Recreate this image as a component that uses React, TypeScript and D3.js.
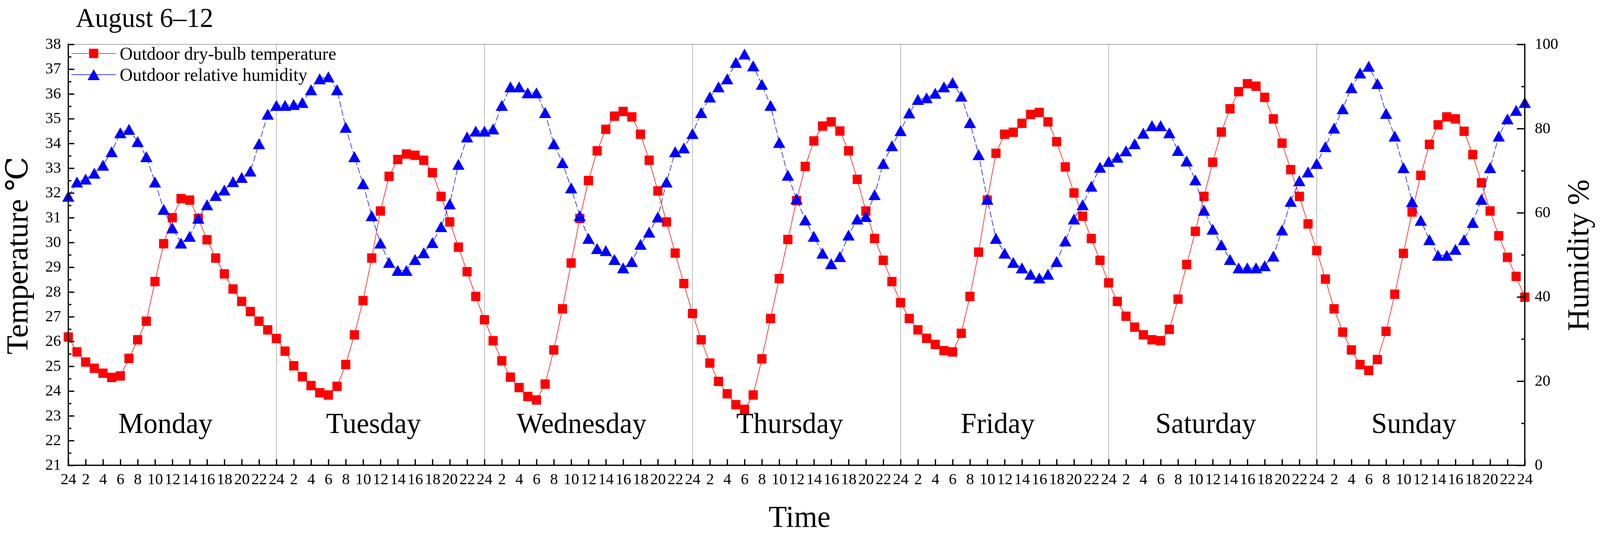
import { axisBottom, axisLeft, axisRight, line, range, scaleLinear, select } from "d3";
import { useEffect, useRef } from "react";

// hourly readings, one array per day (Sunday also holds the closing 24:00 point)
const tempMon = [26.18, 25.58, 25.17, 24.92, 24.72, 24.55, 24.61, 25.32, 26.07, 26.82, 28.42, 29.95, 31.0, 31.77, 31.71, 30.97, 30.11, 29.37, 28.73, 28.12, 27.62, 27.21, 26.82, 26.47];
const tempTue = [26.12, 25.61, 25.02, 24.58, 24.22, 23.93, 23.84, 24.19, 25.07, 26.27, 27.65, 29.37, 31.27, 32.67, 33.35, 33.57, 33.52, 33.32, 32.82, 31.86, 30.83, 29.81, 28.82, 27.82];
const tempWed = [26.88, 26.03, 25.22, 24.56, 24.14, 23.78, 23.64, 24.28, 25.66, 27.32, 29.17, 30.97, 32.5, 33.7, 34.57, 35.1, 35.29, 35.07, 34.37, 33.32, 32.08, 30.83, 29.57, 28.34];
const tempThu = [27.13, 26.07, 25.13, 24.39, 23.89, 23.45, 23.26, 23.84, 25.3, 26.93, 28.54, 30.12, 31.69, 33.07, 34.1, 34.7, 34.87, 34.5, 33.7, 32.55, 31.27, 30.16, 29.28, 28.42];
const tempFri = [27.57, 26.93, 26.47, 26.13, 25.88, 25.63, 25.58, 26.33, 27.82, 29.61, 31.71, 33.6, 34.37, 34.45, 34.81, 35.17, 35.25, 34.87, 34.07, 33.05, 32.0, 31.06, 30.16, 29.28];
const tempSat = [28.37, 27.62, 27.02, 26.58, 26.27, 26.07, 26.03, 26.49, 27.71, 29.11, 30.45, 31.86, 33.24, 34.46, 35.4, 36.09, 36.41, 36.31, 35.86, 34.99, 34.01, 32.94, 31.86, 30.75];
const tempSun = [29.67, 28.52, 27.32, 26.38, 25.66, 25.07, 24.83, 25.27, 26.41, 27.91, 29.56, 31.23, 32.71, 33.96, 34.75, 35.07, 34.99, 34.49, 33.55, 32.41, 31.27, 30.27, 29.4, 28.63, 27.79];

const humMon = [63.9, 67.3, 68.0, 69.4, 71.3, 74.5, 79.0, 79.8, 76.9, 73.3, 67.3, 60.8, 56.4, 52.8, 54.4, 58.7, 61.9, 64.1, 65.4, 67.4, 68.4, 69.9, 76.4, 83.4];
const humTue = [85.5, 85.5, 85.7, 86.2, 89.2, 91.8, 92.3, 89.2, 80.3, 73.3, 66.9, 59.3, 52.8, 48.2, 46.3, 46.3, 48.9, 50.5, 52.9, 56.7, 62.1, 71.5, 78.0, 79.4];
const humWed = [79.4, 79.9, 85.5, 89.9, 89.9, 88.5, 88.5, 83.8, 76.4, 71.9, 65.9, 59.3, 53.9, 51.5, 51.0, 48.9, 46.9, 48.4, 52.5, 55.4, 59.0, 67.3, 74.5, 75.4];
const humThu = [78.8, 83.8, 87.5, 89.9, 91.8, 95.7, 97.7, 94.9, 90.5, 85.5, 76.7, 68.9, 63.3, 58.3, 54.4, 50.4, 47.9, 49.6, 54.7, 58.5, 59.1, 64.3, 71.7, 75.9];
const humFri = [79.5, 83.7, 86.9, 87.3, 88.4, 89.9, 90.9, 87.7, 81.4, 73.8, 63.2, 53.9, 50.4, 48.2, 46.9, 45.4, 44.5, 45.4, 48.4, 53.3, 58.5, 61.9, 66.3, 70.8];
const humSat = [72.2, 73.2, 74.7, 76.4, 78.9, 80.7, 80.7, 79.0, 74.8, 72.3, 67.8, 60.6, 56.1, 52.4, 48.9, 46.9, 46.9, 46.9, 47.4, 49.7, 55.9, 62.7, 67.6, 69.7];
const humSun = [71.7, 75.7, 80.1, 84.7, 89.7, 93.2, 94.8, 90.7, 83.6, 78.2, 70.7, 62.6, 58.2, 53.6, 49.9, 49.9, 51.3, 53.6, 57.7, 63.2, 70.7, 78.2, 82.3, 84.3, 86.2];

const days = ["Monday", "Tuesday", "Wednesday", "Thursday", "Friday", "Saturday", "Sunday"];
const tempTicks = [21, 22, 23, 24, 25, 26, 27, 28, 29, 30, 31, 32, 33, 34, 35, 36, 37, 38];
const humTicks = [0, 20, 40, 60, 80, 100];

const temperature = [...tempMon, ...tempTue, ...tempWed, ...tempThu, ...tempFri, ...tempSat, ...tempSun];
const humidity = [...humMon, ...humTue, ...humWed, ...humThu, ...humFri, ...humSat, ...humSun];

const WIDTH = 4184;
const HEIGHT = 1369;
const FONT = '"Liberation Serif", "Times New Roman", "DejaVu Serif", serif';
const plot = { left: 178.6, right: 3987.3, top: 113.5, bottom: 1190.7 };

export default function App() {
  const svgRef = useRef<SVGSVGElement | null>(null);

  useEffect(() => {
    if (!svgRef.current) return;
    const svg = select(svgRef.current);
    svg.selectAll("*").remove();

    const x = scaleLinear().domain([0, 168]).range([plot.left, plot.right]);
    const yT = scaleLinear().domain([21, 38]).range([plot.bottom, plot.top]);
    const yH = scaleLinear().domain([0, 100]).range([plot.bottom, plot.top]);

    svg.append("rect").attr("width", WIDTH).attr("height", HEIGHT).attr("fill", "#fff");

    // day separators
    svg
      .append("g")
      .selectAll("line")
      .data(range(24, 168, 24))
      .join("line")
      .attr("x1", (d) => x(d))
      .attr("x2", (d) => x(d))
      .attr("y1", plot.top)
      .attr("y2", plot.bottom)
      .attr("stroke", "#a0a0a0")
      .attr("stroke-width", 1.5);

    svg
      .append("line")
      .attr("x1", plot.left)
      .attr("x2", plot.right)
      .attr("y1", plot.top)
      .attr("y2", plot.top)
      .attr("stroke", "#888")
      .attr("stroke-width", 1.6);

    // temperature series
    const tempLine = line<number>()
      .x((_, i) => x(i))
      .y((d) => yT(d));
    svg
      .append("path")
      .attr("d", tempLine(temperature))
      .attr("fill", "none")
      .attr("stroke", "#ff0000")
      .attr("stroke-width", 1.5);
    svg
      .append("g")
      .selectAll("rect")
      .data(temperature)
      .join("rect")
      .attr("x", (_, i) => x(i) - 12)
      .attr("y", (d) => yT(d) - 12)
      .attr("width", 24)
      .attr("height", 24)
      .attr("fill", "#ff0000");

    // humidity series
    const humLine = line<number>()
      .x((_, i) => x(i))
      .y((d) => yH(d));
    svg
      .append("path")
      .attr("d", humLine(humidity))
      .attr("fill", "none")
      .attr("stroke", "#0000ff")
      .attr("stroke-width", 1.5)
      .attr("stroke-dasharray", "16 6");
    const tri = "M0,-14L16,14L-16,14Z";
    svg
      .append("g")
      .selectAll("path")
      .data(humidity)
      .join("path")
      .attr("d", tri)
      .attr("transform", (d, i) => `translate(${x(i)},${yH(d)})`)
      .attr("fill", "#0000ff");

    const styleAxis = (g: any) => {
      g.attr("font-family", FONT).attr("font-size", 41);
      g.select(".domain").remove();
      g.selectAll(".tick line").attr("stroke", "#000").attr("stroke-width", 3.3);
      g.selectAll(".tick text").attr("fill", "#000");
    };

    // left axis, minor ticks at halves
    svg
      .append("g")
      .attr("transform", `translate(${plot.left},0)`)
      .call(axisLeft(yT).tickValues(range(21.5, 38, 1)).tickSize(-8).tickFormat(() => ""))
      .call(styleAxis);
    svg
      .append("g")
      .attr("transform", `translate(${plot.left},0)`)
      .call(axisLeft(yT).tickValues(tempTicks).tickSize(-15.7).tickPadding(19).tickFormat((d) => `${d}`))
      .call(styleAxis)
      .call((g) => g.selectAll(".tick text").attr("dy", "0.27em"));

    // right axis
    svg
      .append("g")
      .attr("transform", `translate(${plot.right},0)`)
      .call(axisRight(yH).tickValues(range(10, 100, 20)).tickSize(-9).tickFormat(() => ""))
      .call(styleAxis);
    svg
      .append("g")
      .attr("transform", `translate(${plot.right},0)`)
      .call(axisRight(yH).tickValues(humTicks).tickSize(-20.7).tickPadding(26).tickFormat((d) => `${d}`))
      .call(styleAxis)
      .call((g) => g.selectAll(".tick text").attr("dy", "0.27em"));

    // bottom axis, every 2 h
    svg
      .append("g")
      .attr("transform", `translate(0,${plot.bottom})`)
      .call(
        axisBottom(x)
          .tickValues(range(0, 169, 2))
          .tickSize(-15.7)
          .tickPadding(19)
          .tickFormat((d) => {
            const h = Number(d) % 24;
            return h === 0 ? "24" : `${h}`;
          }),
      )
      .call(styleAxis);

    // frame
    const frame = svg.append("g").attr("stroke", "#000").attr("stroke-width", 3.3).attr("stroke-linecap", "square");
    frame.append("line").attr("x1", plot.left).attr("x2", plot.left).attr("y1", plot.top).attr("y2", plot.bottom);
    frame.append("line").attr("x1", plot.right).attr("x2", plot.right).attr("y1", plot.top).attr("y2", plot.bottom);
    frame.append("line").attr("x1", plot.left).attr("x2", plot.right).attr("y1", plot.bottom).attr("y2", plot.bottom);

    // day names
    svg
      .append("g")
      .selectAll("text")
      .data(days)
      .join("text")
      .attr("x", (_, i) => x(i * 24 + 12) - 18)
      .attr("y", 1108)
      .attr("text-anchor", "middle")
      .attr("font-family", FONT)
      .attr("font-size", 74)
      .text((d) => d);

    svg
      .append("text")
      .attr("x", 198)
      .attr("y", 69)
      .attr("font-family", FONT)
      .attr("font-size", 70)
      .text("August 6–12");

    svg
      .append("text")
      .attr("transform", `translate(71,654) rotate(-90)`)
      .attr("text-anchor", "middle")
      .attr("font-family", FONT)
      .attr("font-size", 79)
      .text("Temperature ℃");

    svg
      .append("text")
      .attr("transform", `translate(4153,653) rotate(-90)`)
      .attr("text-anchor", "middle")
      .attr("font-family", FONT)
      .attr("font-size", 79)
      .text("Humidity %");

    svg
      .append("text")
      .attr("x", (plot.left + plot.right) / 2 + 8)
      .attr("y", 1348)
      .attr("text-anchor", "middle")
      .attr("font-family", FONT)
      .attr("font-size", 78)
      .text("Time");

    // legend
    const legend = svg.append("g");
    const rows = [
      { label: "Outdoor dry-bulb temperature", color: "#ff0000", y: 136.7, marker: "square" },
      { label: "Outdoor relative humidity", color: "#0000ff", y: 191, marker: "triangle" },
    ];
    rows.forEach((row) => {
      legend
        .append("line")
        .attr("x1", 186.7)
        .attr("x2", 302.7)
        .attr("y1", row.y)
        .attr("y2", row.y)
        .attr("stroke", row.color)
        .attr("stroke-width", 1.5);
      if (row.marker === "square") {
        legend.append("rect").attr("x", 233).attr("y", row.y - 12).attr("width", 24).attr("height", 24).attr("fill", row.color);
      } else {
        legend.append("path").attr("d", tri).attr("transform", `translate(245,${row.y})`).attr("fill", row.color);
      }
      legend
        .append("text")
        .attr("x", 313)
        .attr("y", row.y + 16)
        .attr("font-family", FONT)
        .attr("font-size", 47)
        .text(row.label);
    });
  }, []);

  // stretch the drawing over the whole viewport, which is what gets photographed
  return (
    <svg
      ref={svgRef}
      viewBox={`0 0 ${WIDTH} ${HEIGHT}`}
      preserveAspectRatio="none"
      style={{ position: "fixed", left: 0, top: 0, width: "100vw", height: "100vh", display: "block" }}
    />
  );
}
